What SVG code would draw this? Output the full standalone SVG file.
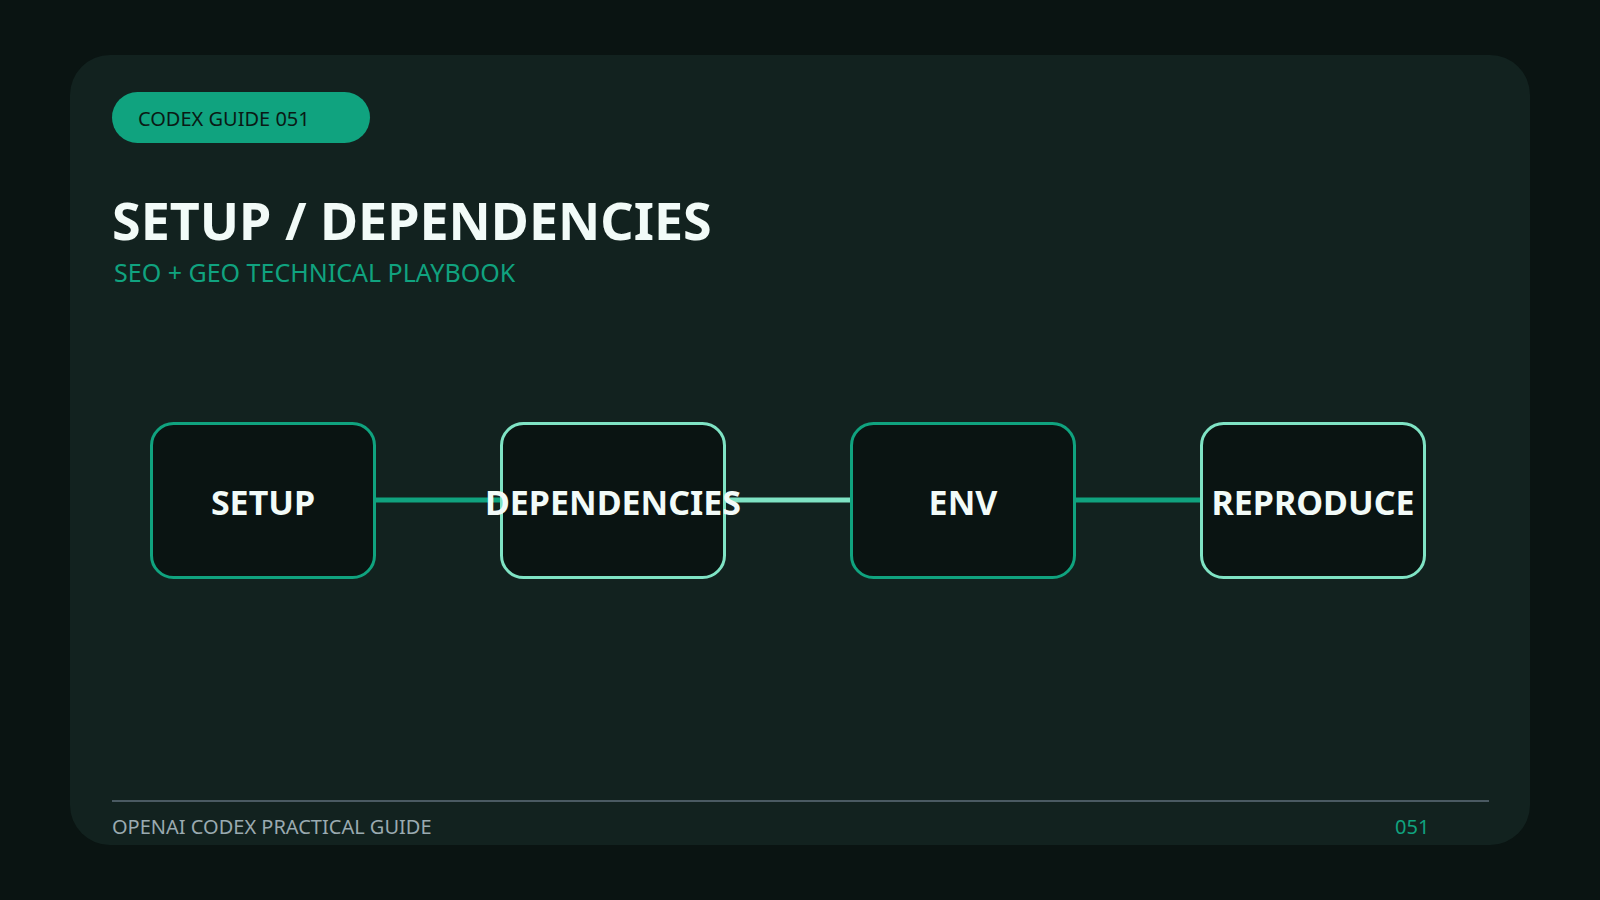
<svg xmlns="http://www.w3.org/2000/svg" width="1600" height="900" viewBox="0 0 1600 900">
<style>
.bg{fill:#0a1412}
.card{fill:#12221f}
.pill{fill:#10a37f}
.pilltext{font-family:"Noto Sans",sans-serif;font-size:20px;fill:#0a1a15}
.title{font-family:"Noto Sans",sans-serif;font-weight:700;font-size:52px;fill:#f2fbf8}
.sub{font-family:"Noto Sans",sans-serif;font-size:25px;fill:#10a37f}
.box{fill:#0a1412;stroke-width:3}
.a{stroke:#10a37f}
.b{stroke:#7fe3c4}
.label{font-family:"Noto Sans",sans-serif;font-weight:700;font-size:34px;fill:#f2fbf8;text-anchor:middle}
.conn{stroke-width:5;fill:none}
.foot{font-family:"Noto Sans",sans-serif;font-size:20px;fill:#9aaab0}
.num{font-family:"Noto Sans",sans-serif;font-size:20px;fill:#10a37f}
</style>
<rect class="bg" x="0" y="0" width="1600" height="900"/>
<rect class="card" x="70" y="55" width="1460" height="790" rx="40"/>
<g id="badge">
<rect class="pill" x="112" y="92" width="258" height="51" rx="25.5"/>
<text class="pilltext" x="138" y="126">CODEX GUIDE 051</text>
</g>
<text class="title" x="112" y="240">SETUP / DEPENDENCIES</text>
<text class="sub" x="114" y="282">SEO + GEO TECHNICAL PLAYBOOK</text>
<g id="connectors">
<line class="conn a" x1="375" y1="500" x2="501" y2="500" stroke="#10a37f"/>
<line class="conn b" x1="725" y1="500" x2="851" y2="500" stroke="#7fe3c4"/>
<line class="conn a" x1="1075" y1="500" x2="1201" y2="500" stroke="#10a37f"/>
</g>
<g id="node-setup">
<rect class="box a" x="151.5" y="423.5" width="223" height="154" rx="22"/>
<text class="label" x="263" y="515">SETUP</text>
</g>
<g id="node-dependencies">
<rect class="box b" x="501.5" y="423.5" width="223" height="154" rx="22"/>
<text class="label" x="613" y="515">DEPENDENCIES</text>
</g>
<g id="node-env">
<rect class="box a" x="851.5" y="423.5" width="223" height="154" rx="22"/>
<text class="label" x="963" y="515">ENV</text>
</g>
<g id="node-reproduce">
<rect class="box b" x="1201.5" y="423.5" width="223" height="154" rx="22"/>
<text class="label" x="1313" y="515">REPRODUCE</text>
</g>
<line x1="112" y1="801" x2="1489" y2="801" stroke="#4a5a62" stroke-width="2"/>
<text class="foot" x="112" y="834">OPENAI CODEX PRACTICAL GUIDE</text>
<text class="num" x="1395" y="834">051</text>
</svg>
